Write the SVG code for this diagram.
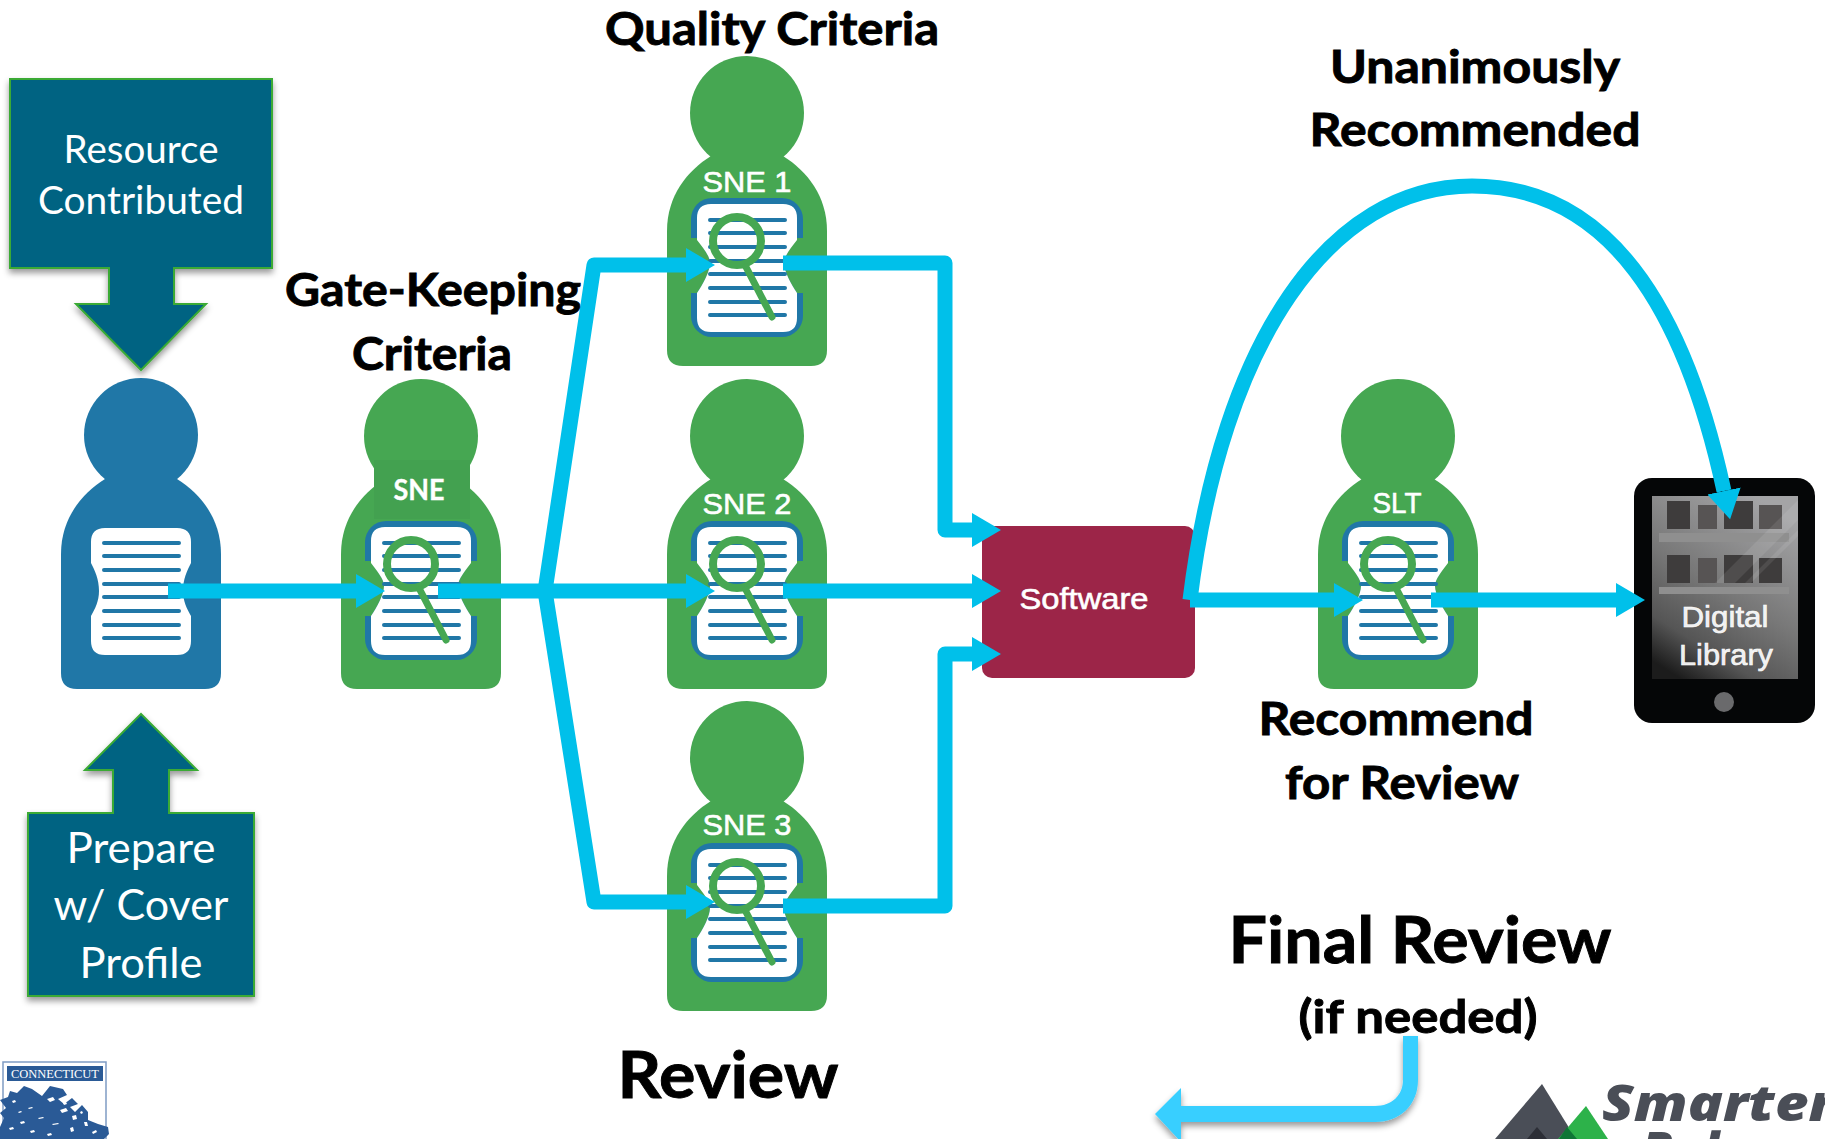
<svg xmlns="http://www.w3.org/2000/svg" xmlns:xlink="http://www.w3.org/1999/xlink" width="1825" height="1139" viewBox="0 0 1825 1139">
<style>
.lb{font-family:Lato,"Open Sans",sans-serif;font-weight:700;fill:#000;stroke:#000;stroke-width:.9;text-anchor:middle}
.lw{font-family:Lato,"Open Sans",sans-serif;font-weight:400;fill:#fff;text-anchor:middle}
.lt{font-family:"Liberation Sans",Arial,sans-serif;fill:#fff;stroke:#fff;stroke-width:.6;text-anchor:middle}
.box{fill:#006482;stroke:#3aaa35;stroke-width:2;filter:url(#sh)}
.conn{fill:none;stroke:#00c0ea;stroke-width:15;stroke-linejoin:round}
.ln{stroke:#2077a7;stroke-width:4;stroke-linecap:round}
.bk{fill:#3e3c3c}
.bk2{fill:#575454}
.sf{fill:#8f8f8f}
.lg{font-family:"Open Sans","Liberation Sans",sans-serif;font-weight:800;font-style:italic;font-size:50px;fill:#4a4e57}
</style>
<defs>
<filter id="sh" x="-10%" y="-10%" width="120%" height="125%"><feDropShadow dx="0" dy="4" stdDeviation="3" flood-color="#000" flood-opacity=".4"/></filter>
<linearGradient id="scr" x1="0.7" y1="0" x2="0.2" y2="1"><stop offset="0" stop-color="#a4a4a6"/><stop offset=".5" stop-color="#777"/><stop offset=".8" stop-color="#555"/><stop offset="1" stop-color="#1c1c1c"/></linearGradient>
<marker id="ah" markerUnits="userSpaceOnUse" markerWidth="30" markerHeight="36" refX="0" refY="18" orient="auto"><path d="M0,1 L29,18 L0,35 Z" fill="#00c0ea"/></marker>
<path id="body" d="M-80,-16 V-135 C-80,-170 -60,-195 -36,-210 H36 C60,-195 80,-170 80,-135 V-16 Q80,0 64,0 H-64 Q-80,0 -80,-16 Z"/>
<g id="lines">
<path class="ln" d="M-37,-146 H38 M-37,-133 H38 M-37,-119 H38 M-37,-105 H38 M-37,-92 H38 M-37,-78 H38 M-37,-64 H38 M-37,-51 H38"/>
</g>
<g id="reviewer">
<circle cx="0" cy="-253" r="57" fill="#46a752"/>
<use xlink:href="#body" fill="#46a752"/>
<rect x="-56" y="-168" width="112" height="139" rx="21" fill="#2077a7"/>
<path d="M-62,-128 H-50 C-44,-118 -37,-110 -37,-103 C-37,-95 -44,-82 -50,-73 H-62 Z M62,-128 H50 C44,-118 37,-110 37,-103 C37,-95 44,-82 50,-73 H62 Z" fill="#46a752"/>
<path d="M-36,-162 H36 Q50,-162 50,-148 V-126 C44,-118 37,-110 37,-103 C37,-95 44,-82 50,-73 V-48 Q50,-34 36,-34 H-36 Q-50,-34 -50,-48 V-73 C-44,-82 -37,-95 -37,-103 C-37,-110 -44,-118 -50,-126 V-148 Q-50,-162 -36,-162 Z" fill="#fff"/>
<use xlink:href="#lines"/>
<circle cx="-10" cy="-125" r="24" fill="none" stroke="#46a752" stroke-width="8"/>
<path d="M-1,-99 L25,-49" stroke="#46a752" stroke-width="7" stroke-linecap="round"/>
</g>
</defs>
<rect width="1825" height="1139" fill="#fff"/>

<g id="resource-contributed">
<path class="box" d="M10,79 H272 V268 H174 V304 H206 L141,370 L76,304 H109 V268 H10 Z"/>
<text class="lw" x="141" y="163" font-size="38" textLength="155" lengthAdjust="spacingAndGlyphs">Resource</text>
<text class="lw" x="141" y="214" font-size="38" textLength="206" lengthAdjust="spacingAndGlyphs">Contributed</text>
</g>

<g id="prepare-cover-profile">
<path class="box" d="M28,813 H113 V770 H85 L141,714 L197,770 H169 V813 H254 V996 H28 Z"/>
<text class="lw" x="141" y="863" font-size="43" textLength="149" lengthAdjust="spacingAndGlyphs">Prepare</text>
<text class="lw" x="141" y="920" font-size="43" textLength="175" lengthAdjust="spacingAndGlyphs">w/ Cover</text>
<text class="lw" x="141" y="978" font-size="43" textLength="123" lengthAdjust="spacingAndGlyphs">Profile</text>
</g>

<g id="contributor" transform="translate(141,689)">
<circle cx="0" cy="-254" r="57" fill="#2077a7"/>
<use xlink:href="#body" fill="#2077a7"/>
<path d="M-36,-161 H36 Q50,-161 50,-147 V-126 C46,-118 42,-110 42,-98 C42,-88 46,-80 50,-73 V-48 Q50,-34 36,-34 H-36 Q-50,-34 -50,-48 V-73 C-46,-80 -42,-88 -42,-98 C-42,-110 -46,-118 -50,-126 V-147 Q-50,-161 -36,-161 Z" fill="#fff"/>
<use xlink:href="#lines"/>
</g>

<g id="sne-gatekeeper">
<use xlink:href="#reviewer" x="421" y="689"/>
<rect x="374" y="460" width="96" height="59" fill="#43a150"/>
<text class="lb" x="419" y="500" font-size="28" style="fill:#fff;stroke:#fff;stroke-width:.4" textLength="51" lengthAdjust="spacingAndGlyphs">SNE</text>
</g>
<g id="sne-1">
<use xlink:href="#reviewer" x="747" y="366"/>
<text class="lt" x="747" y="192" font-size="30" textLength="89" lengthAdjust="spacingAndGlyphs">SNE 1</text>
</g>
<g id="sne-2">
<use xlink:href="#reviewer" x="747" y="689"/>
<text class="lt" x="747" y="514" font-size="30" textLength="89" lengthAdjust="spacingAndGlyphs">SNE 2</text>
</g>
<g id="sne-3">
<use xlink:href="#reviewer" x="747" y="1011"/>
<text class="lt" x="747" y="835" font-size="30" textLength="89" lengthAdjust="spacingAndGlyphs">SNE 3</text>
</g>
<g id="slt">
<use xlink:href="#reviewer" x="1398" y="689"/>
<text class="lt" x="1397" y="513" font-size="30" textLength="49" lengthAdjust="spacingAndGlyphs">SLT</text>
</g>

<g id="software">
<rect x="982" y="526" width="213" height="152" rx="10" fill="#9c2548"/>
<text class="lt" x="1084" y="609" font-size="30" textLength="129" lengthAdjust="spacingAndGlyphs">Software</text>
</g>

<g id="digital-library">
<rect x="1634" y="478" width="181" height="245" rx="18" fill="#050607"/>
<rect x="1652" y="496" width="146" height="183" fill="url(#scr)"/>
<rect class="bk" x="1667" y="501" width="23" height="28"/><rect class="bk2" x="1698" y="505" width="19" height="24"/><rect class="bk" x="1724" y="501" width="29" height="28"/><rect class="bk2" x="1759" y="505" width="23" height="24"/>
<rect class="sf" x="1659" y="533" width="130" height="9"/>
<rect class="bk" x="1667" y="555" width="23" height="28"/><rect class="bk2" x="1698" y="558" width="19" height="25"/><rect class="bk" x="1724" y="555" width="29" height="28"/><rect class="bk" x="1759" y="558" width="23" height="25"/>
<rect class="sf" x="1659" y="587" width="130" height="7"/>
<path d="M1715,583 L1798,500 V520 L1735,583 Z M1745,583 L1798,530 V536 L1751,583 Z" fill="#fff" fill-opacity=".09"/>
<text class="lt" x="1725" y="627" font-size="30" fill-opacity=".92" textLength="87" lengthAdjust="spacingAndGlyphs">Digital</text>
<text class="lt" x="1726" y="665" font-size="30" fill-opacity=".92" textLength="94" lengthAdjust="spacingAndGlyphs">Library</text>
<circle cx="1724" cy="702" r="10" fill="#6a6a6c"/>
</g>

<g id="connectors">
<path class="conn" marker-end="url(#ah)" d="M168,591 H356"/>
<path class="conn" d="M438,591 H545"/>
<path class="conn" marker-end="url(#ah)" d="M545,591 L594,265 H686"/>
<path class="conn" marker-end="url(#ah)" d="M545,591 H686"/>
<path class="conn" marker-end="url(#ah)" d="M545,591 L594,902 H686"/>
<path class="conn" marker-end="url(#ah)" d="M783,263 H945 V530 H972"/>
<path class="conn" marker-end="url(#ah)" d="M783,591 H972"/>
<path class="conn" marker-end="url(#ah)" d="M783,906 H945 V654 H972"/>
<path class="conn" marker-end="url(#ah)" d="M1190,600 H1334"/>
<path class="conn" marker-end="url(#ah)" d="M1431,600 H1616"/>
<path class="conn" marker-end="url(#ah)" d="M1190,600 C1222,340 1330,186 1472,186 C1610,186 1685,310 1724,491"/>
<path filter="url(#sh)" fill="#38cfff" d="M1403,1036 H1418 V1080 C1418,1105 1400,1122 1375,1122 H1181 V1142 L1155,1114 L1181,1088 V1106 H1375 C1392,1106 1403,1095 1403,1080 Z"/>
</g>

<g id="labels">
<text class="lb" x="772" y="45" font-size="46" textLength="334" lengthAdjust="spacingAndGlyphs">Quality Criteria</text>
<text class="lb" x="1475" y="83" font-size="46" textLength="290" lengthAdjust="spacingAndGlyphs">Unanimously</text>
<text class="lb" x="1475" y="146" font-size="46" textLength="331" lengthAdjust="spacingAndGlyphs">Recommended</text>
<text class="lb" x="433" y="306" font-size="46" textLength="296" lengthAdjust="spacingAndGlyphs">Gate-Keeping</text>
<text class="lb" x="432" y="370" font-size="46" textLength="160" lengthAdjust="spacingAndGlyphs">Criteria</text>
<text class="lb" x="1396" y="735" font-size="46" textLength="275" lengthAdjust="spacingAndGlyphs">Recommend</text>
<text class="lb" x="1402" y="799" font-size="46" textLength="234" lengthAdjust="spacingAndGlyphs">for Review</text>
<text class="lb" x="1420" y="963" font-size="65" textLength="383" lengthAdjust="spacingAndGlyphs">Final Review</text>
<text class="lb" x="1418" y="1033" font-size="46" textLength="239" lengthAdjust="spacingAndGlyphs">(if needed)</text>
<text class="lb" x="728" y="1098" font-size="65" textLength="221" lengthAdjust="spacingAndGlyphs">Review</text>
</g>

<g id="connecticut-logo">
<path d="M3,1139 V1062 H106 V1139" fill="none" stroke="#7f9cc4" stroke-width="1.5"/>
<rect x="7" y="1066" width="96" height="15" fill="#2a5a96"/>
<text x="55" y="1078" font-family="'Liberation Serif',serif" font-size="11.5" fill="#fff" text-anchor="middle" textLength="88" lengthAdjust="spacingAndGlyphs">CONNECTICUT</text>
<path fill="#2a5a96" d="M0,1100 L8,1097 L10,1091 L17,1093 L24,1086 L32,1089 L42,1096 L50,1086 L63,1089 L67,1095 L58,1099 L64,1104 L72,1098 L78,1104 L70,1107 L75,1112 L82,1105 L88,1112 L88,1120 L98,1124 L108,1127 L109,1134 L104,1139 H0 V1127 L4,1118 L0,1113 L6,1108 Z"/>
<path fill="#fff" d="M12,1101 l3,-1 l1,2 l-3,1z M28,1108 l4,-1 l1,1 l-4,1z M47,1099 l6,-2 l2,3 l-5,2z M60,1110 l6,-2 l2,3 l-6,2z M72,1116 l4,-1 l1,4 l-4,1z M38,1118 l5,-1 l1,1 l-5,1z M20,1122 l4,-1 l1,2 l-4,1z M9,1128 l4,-1 l1,2 l-4,1z M52,1124 l6,-1 l1,1 l-6,1z M30,1131 l4,-1 l1,2 l-4,1z M70,1128 l3,-1 l1,4 l-3,1z M84,1122 l3,0 l1,4 l-3,0z M92,1132 l4,-2 l1,2 l-4,2z M47,1134 l4,-1 l1,2 l-4,1z M63,1103 l3,-1 l1,2 l-3,1z M18,1112 l3,-1 l1,1 l-3,1z M80,1112 l2,-1 l1,2 l-2,1z"/>
</g>

<g id="smarter-balanced-logo">
<path fill="#4a4e57" d="M1542,1084 L1576,1139 H1495 Z"/>
<path fill="#2db24a" d="M1586,1106 L1608,1139 H1558 Z"/>
<path fill="#0f7536" d="M1567,1127 L1577,1139 H1559 Z"/>
<path fill="#2c2e36" d="M1537,1127 L1547,1139 H1527 Z"/>
<text class="lg" x="1602" y="1121" textLength="232" lengthAdjust="spacingAndGlyphs">Smarter</text>
<text class="lg" x="1641" y="1168">Balanced</text>
</g>
</svg>
